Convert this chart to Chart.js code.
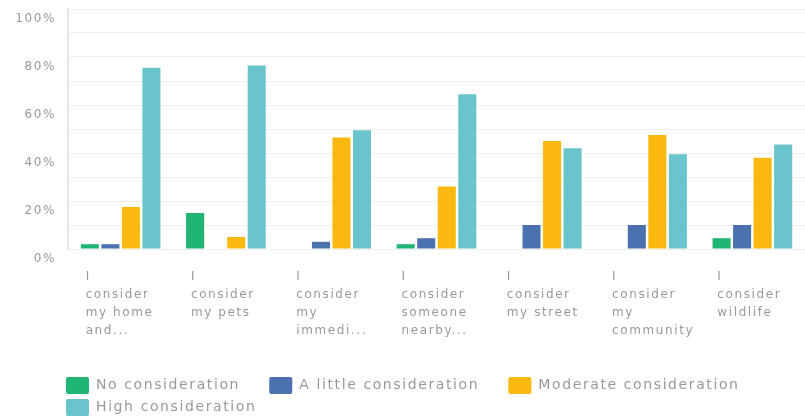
<!DOCTYPE html>
<html>
<head>
<meta charset="utf-8">
<script src="https://cdn.jsdelivr.net/npm/chart.js@4"></script>
<style>
  html, body { margin: 0; padding: 0; background: #fff; overflow: hidden; }
</style>
</head>
<body>
<canvas id="chart" width="805" height="426"></canvas>
<script>
const categories = [
  ['I', 'consider', 'my home', 'and...'],
  ['I', 'consider', 'my pets'],
  ['I', 'consider', 'my', 'immedi...'],
  ['I', 'consider', 'someone', 'nearby...'],
  ['I', 'consider', 'my street'],
  ['I', 'consider', 'my', 'community'],
  ['I', 'consider', 'wildlife']
];

const noConsideration = [2, 15, 0, 2, 0, 0, 4.5];
const littleConsideration = [2, 0, 3, 4.5, 10, 10, 10];
const moderateConsideration = [17.5, 5, 46.5, 26, 45, 47.5, 38];
const highConsideration = [75.5, 76.5, 49.5, 64.5, 42, 39.5, 43.5];

const seriesNames = ['No consideration', 'A little consideration', 'Moderate consideration', 'High consideration'];
const yTicks = [0, 20, 40, 60, 80, 100];

Chart.defaults.font.family = "'DejaVu Sans', sans-serif";
Chart.defaults.color = '#999';

// the text in the picture is spaced out a bit
const spacing = {
  id: 'spacing',
  beforeUpdate(chart) { chart.ctx.letterSpacing = '1.6px'; },
  beforeDraw(chart) { chart.ctx.letterSpacing = '1.6px'; }
};

// legend rows start under the plot, not at the canvas edge
const legendShift = {
  id: 'legendShift',
  afterLayout(chart) { chart.legend.left = 61; }
};

const ctx = document.getElementById('chart');

new Chart(ctx, {
  type: 'bar',
  data: {
    labels: categories,
    datasets: [
      { label: seriesNames[0], data: noConsideration, backgroundColor: '#20b573' },
      { label: seriesNames[1], data: littleConsideration, backgroundColor: '#4b72ae' },
      { label: seriesNames[2], data: moderateConsideration, backgroundColor: '#fbb90f' },
      { label: seriesNames[3], data: highConsideration, backgroundColor: '#6ac4cc' }
    ]
  },
  options: {
    responsive: false,
    animation: false,
    borderWidth: 0,
    categoryPercentage: 0.78,
    barPercentage: 0.88,
    layout: { padding: 0 },
    scales: {
      x: {
        grid: { display: false, drawTicks: false },
        border: { display: false },
        ticks: {
          autoSkip: false,
          maxRotation: 0,
          align: 'start',
          labelOffset: -35,
          padding: 19,
          font: { size: 12, lineHeight: 1.5 }
        },
        afterFit(scale) {
          scale.height = 123;
          scale.paddingLeft = 0;
          scale.paddingRight = 0;
        }
      },
      y: {
        min: 0,
        max: 100,
        grid: { color: '#eeeeee', drawTicks: false },
        border: { color: '#e6e6e6', width: 2 },
        ticks: {
          stepSize: 10,
          padding: 12,
          labelOffset: 10,
          font: { size: 12 },
          callback: (v) => yTicks.includes(v) ? v + '%' : ''
        },
        afterFit(scale) {
          scale.width = 68;
          scale.paddingTop = 9;
          scale.paddingBottom = 0;
        }
      }
    },
    plugins: {
      tooltip: { enabled: false },
      legend: {
        position: 'bottom',
        align: 'start',
        labels: {
          boxWidth: 23,
          boxHeight: 17,
          padding: 5,
          useBorderRadius: true,
          borderRadius: 2,
          font: { size: 14 },
          generateLabels(chart) {
            return Chart.defaults.plugins.legend.labels.generateLabels(chart)
              .map((item) => ({ ...item, text: item.text + '    ', lineWidth: 0 }));
          }
        }
      }
    }
  },
  plugins: [spacing, legendShift]
});
</script>
</body>
</html>
